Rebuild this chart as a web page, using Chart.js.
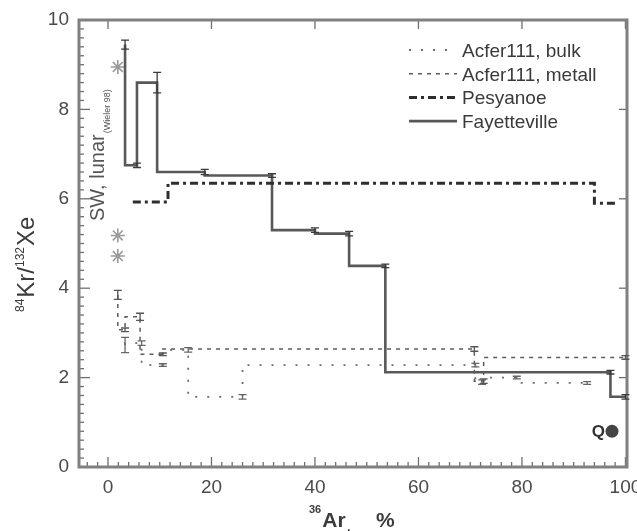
<!DOCTYPE html>
<html><head><meta charset="utf-8">
<style>html,body{margin:0;padding:0;background:#fff}#wrap{width:637px;height:531px;overflow:hidden}</style>
<script src="https://cdn.jsdelivr.net/npm/chart.js@4.4.1/dist/chart.umd.min.js"></script>
</head><body><div id="wrap"><canvas id="c" width="637" height="531"></canvas></div>
<script>
// ---- data ----
const xTicks = [0, 20, 40, 60, 80, 100];
const yTicks = [0, 2, 4, 6, 8, 10];
const seriesNames = ['Acfer111, bulk', 'Acfer111, metall', 'Pesyanoe', 'Fayetteville'];

const bulkX = [3.3, 6.5, 10.6, 15.5, 26.0, 71.0, 72.3, 79.0, 92.6];
const bulkY = [2.73, 2.77, 2.28, 2.62, 1.57, 2.28, 1.9, 2.0, 1.88];
const bulkErr = [0.17, 0.05, 0.03, 0.05, 0.05, 0.04, 0.05, 0.03, 0.03];

const metX = [1.9, 3.3, 6.2, 10.6, 70.8, 72.6, 100];
const metY = [3.85, 3.07, 3.36, 2.52, 2.64, 1.92, 2.45];
const metErr = [0.1, 0.04, 0.08, 0.03, 0.05, 0.05, 0.04];

const pesX = [4.8, 11.6, 94.0, 98.0];
const pesY = [5.93, 5.93, 6.35, 5.9];

const fayX = [3.3, 5.6, 9.5, 18.7, 31.7, 40.0, 46.6, 53.6, 97.1, 100];
const fayY = [9.45, 6.75, 8.6, 6.6, 6.52, 5.3, 5.22, 4.5, 2.12, 1.57];
const fayErr = [0.1, 0.05, 0.23, 0.06, 0.04, 0.05, 0.05, 0.04, 0.04, 0.05];

const swX = [1.9, 1.9, 1.9];
const swY = [8.95, 5.18, 4.72];
const qX = [97.4];
const qY = [0.8];

// ---- helpers ----
const FONT = "'Liberation Sans', Arial, sans-serif";
const pts = (xs, ys) => xs.map((x, i) => ({x: x, y: ys[i]}));

const frame = {
  id: 'frame',
  afterDatasetsDraw(chart) {
    const c = chart.ctx, a = chart.chartArea, sx = chart.scales.x, sy = chart.scales.y;
    c.save();
    c.strokeStyle = '#6e6e6e';
    c.lineWidth = 1.3;
    for (let v = -4; v <= 100; v += 2) {
      const p = sx.getPixelForValue(v);
      const len = (v % 20 === 0) ? 10 : 5;
      c.beginPath(); c.moveTo(p, a.bottom); c.lineTo(p, a.bottom - len); c.stroke();
    }
    xTicks.forEach(v => {
      const p = sx.getPixelForValue(v);
      c.beginPath(); c.moveTo(p, a.top); c.lineTo(p, a.top + 9); c.stroke();
    });
    for (let i = 0; i <= 50; i++) {
      const v = i * 0.2;
      const p = sy.getPixelForValue(v);
      const len = (i % 10 === 0) ? 11 : 5;
      c.beginPath(); c.moveTo(a.left, p); c.lineTo(a.left + len, p); c.stroke();
    }
    yTicks.forEach(v => {
      const p = sy.getPixelForValue(v);
      c.beginPath(); c.moveTo(a.right, p); c.lineTo(a.right - 8, p); c.stroke();
    });
    c.strokeStyle = '#808080';
    c.lineWidth = 3;
    c.strokeRect(a.left, a.top, a.right - a.left, a.bottom - a.top);
    c.restore();
  }
};

const errBars = {
  id: 'errBars',
  afterDatasetsDraw(chart) {
    const c = chart.ctx, sx = chart.scales.x, sy = chart.scales.y;
    c.save();
    chart.data.datasets.forEach(ds => {
      if (!ds.errors) return;
      c.strokeStyle = ds.errColor || '#444';
      c.lineWidth = 1.3;
      c.setLineDash([]);
      ds.data.forEach((p, i) => {
        const e = ds.errors[i];
        const px = sx.getPixelForValue(p.x);
        const y1 = sy.getPixelForValue(p.y + e), y2 = sy.getPixelForValue(p.y - e);
        c.beginPath();
        c.moveTo(px, y1); c.lineTo(px, y2);
        c.moveTo(px - 4, y1); c.lineTo(px + 4, y1);
        c.moveTo(px - 4, y2); c.lineTo(px + 4, y2);
        c.stroke();
      });
    });
    c.restore();
  }
};

const texts = {
  id: 'texts',
  afterDraw(chart) {
    const c = chart.ctx, sx = chart.scales.x, sy = chart.scales.y;
    c.save();
    c.fillStyle = '#3c3c3c';
    c.textBaseline = 'alphabetic';
    // x title
    c.textAlign = 'left';
    let x = 309;
    c.font = 'bold 11px ' + FONT; c.fillText('36', x, 513); x += c.measureText('36').width + 1;
    c.font = 'bold 21px ' + FONT; c.fillText('Ar', x, 527); x += c.measureText('Ar').width + 1;
    c.font = 'bold 14px ' + FONT; c.fillText('trap', x, 538.5); x += c.measureText('trap').width + 3;
    c.font = 'bold 21px ' + FONT; c.fillText('%', x, 527);
    // y title (rotated)
    c.save();
    c.translate(34, 312);
    c.rotate(-Math.PI / 2);
    let t = 0;
    const segs = [['84', 12, -10], ['Kr/', 24, 0], ['132', 12, -10], ['Xe', 24, 0]];
    segs.forEach(s => {
      c.font = s[1] + 'px ' + FONT;
      c.fillText(s[0], t, s[2]);
      t += c.measureText(s[0]).width + (s[1] < 15 ? 1 : 0);
    });
    c.restore();
    // SW label
    c.save();
    c.fillStyle = '#555';
    c.translate(104, 221);
    c.rotate(-Math.PI / 2);
    c.font = '20px ' + FONT;
    c.fillText('SW, lunar', 0, 0);
    const w = c.measureText('SW, lunar').width;
    c.font = '9px ' + FONT;
    c.fillText('(Wieler 98)', w + 1, 6);
    c.restore();
    // Q label
    c.font = 'bold 17px ' + FONT;
    c.textAlign = 'right';
    c.fillStyle = '#333';
    c.fillText('Q', sx.getPixelForValue(qX[0]) - 7, sy.getPixelForValue(qY[0]) + 6);
    // legend
    c.textAlign = 'left';
    c.font = '19px ' + FONT;
    const lines = chart.data.datasets.slice(0, 4);
    lines.forEach((ds, i) => {
      const yy = 50 + i * 23.7;
      c.save();
      c.strokeStyle = ds.borderColor;
      c.lineWidth = ds.borderWidth;
      c.setLineDash(ds.borderDash || []);
      c.beginPath(); c.moveTo(409, yy); c.lineTo(457, yy); c.stroke();
      c.restore();
      c.fillStyle = '#3a3a3a';
      c.fillText(ds.label, 462, yy + 7);
    });
    c.restore();
  }
};

new Chart(document.getElementById('c'), {
  type: 'line',
  data: {
    datasets: [
      {label: seriesNames[0], data: pts(bulkX, bulkY), errors: bulkErr, errColor: '#666',
       stepped: 'after', borderColor: '#6a6a6a', borderWidth: 1.8, borderDash: [2, 10], pointRadius: 0, fill: false},
      {label: seriesNames[1], data: pts(metX, metY), errors: metErr, errColor: '#555',
       stepped: 'after', borderColor: '#5c5c5c', borderWidth: 1.5, borderDash: [4, 5], pointRadius: 0, fill: false},
      {label: seriesNames[2], data: pts(pesX, pesY),
       stepped: 'after', borderColor: '#2e2e2e', borderWidth: 3, borderDash: [8, 4, 3, 4], pointRadius: 0, fill: false},
      {label: seriesNames[3], data: pts(fayX, fayY), errors: fayErr, errColor: '#3a3a3a',
       stepped: 'after', borderColor: '#585858', borderWidth: 2.6, pointRadius: 0, fill: false},
      {label: 'SW', data: pts(swX, swY), showLine: false, pointStyle: 'star', pointRadius: 7,
       borderColor: '#9a9a9a', pointBorderWidth: 1.6, backgroundColor: '#9a9a9a'},
      {label: 'Q', data: pts(qX, qY), showLine: false, pointStyle: 'circle', pointRadius: 6.5,
       backgroundColor: '#444', borderColor: '#444', pointBorderWidth: 0}
    ]
  },
  options: {
    responsive: false, animation: false, devicePixelRatio: 1,
    layout: {padding: {left: 0, right: 10, top: 20, bottom: 0}},
    plugins: {legend: {display: false}, tooltip: {enabled: false}},
    scales: {
      x: {type: 'linear', min: -5.6, max: 100.3,
          grid: {display: false, drawTicks: false}, border: {display: false},
          afterBuildTicks(s) { s.ticks = xTicks.map(v => ({value: v})); },
          ticks: {padding: 9, maxRotation: 0, autoSkip: false, color: '#4a4a4a', font: {family: FONT, size: 19}},
          afterFit(s) { s.height = 64; s.paddingLeft = 0; s.paddingRight = 0; }},
      y: {type: 'linear', min: 0, max: 10,
          grid: {display: false, drawTicks: false}, border: {display: false},
          afterBuildTicks(s) { s.ticks = yTicks.map(v => ({value: v})); },
          ticks: {padding: 10, color: '#4a4a4a', font: {family: FONT, size: 19}},
          afterFit(s) { s.width = 79; s.paddingTop = 0; s.paddingBottom = 0; }}
    }
  },
  plugins: [frame, errBars, texts]
});
</script>
</body></html>
